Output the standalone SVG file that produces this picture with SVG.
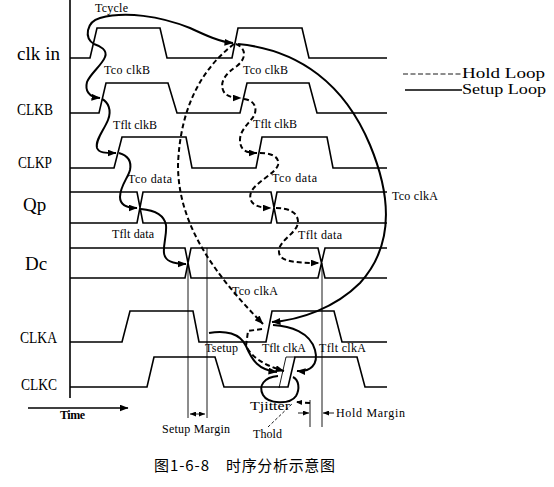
<svg xmlns="http://www.w3.org/2000/svg" width="554" height="487" viewBox="0 0 554 487">
<style>
.sig{fill:none;stroke:#000;stroke-width:1.6}
.thin{fill:none;stroke:#000;stroke-width:0.9}
.loop{fill:none;stroke:#000;stroke-width:2}
.hold{fill:none;stroke:#000;stroke-width:2;stroke-dasharray:5,3}
.lbl{font-family:"Liberation Serif",serif;font-size:12px;fill:#000}
.big{font-family:"Liberation Serif",serif;font-size:19px;fill:#000}
.caps{font-family:"Liberation Serif",serif;font-size:16px;fill:#000}
.leg{font-family:"Liberation Serif",serif;font-size:14px;fill:#000}
.cap{font-family:"Noto Sans CJK SC",sans-serif;font-size:15px;fill:#000}
</style>
<defs>
<marker id="ah" viewBox="0 0 9 7" refX="8.5" refY="3.5" markerWidth="9" markerHeight="7" markerUnits="userSpaceOnUse" orient="auto"><path d="M0,0 L9,3.5 L0,7 z" fill="#000"/></marker>
<marker id="sm" viewBox="0 0 6 5" refX="6" refY="2.5" markerWidth="6" markerHeight="5" markerUnits="userSpaceOnUse" orient="auto-start-reverse"><path d="M0,0 L6,2.5 L0,5 z" fill="#000"/></marker>
</defs>
<rect width="554" height="487" fill="#fff"/>

<g id="axis"><path class="sig" d="M70,0 V398"/></g>

<g id="clkin"><text class="big" x="17" y="60" textLength="43">clk in</text><path class="sig" d="M70,58 H90 L97,28 H160 L167,58 H232 L238,28 H302 L309,58 H387"/></g>
<g id="clkb"><text class="caps" x="17" y="115" textLength="36" lengthAdjust="spacingAndGlyphs">CLKB</text><path class="sig" d="M70,113 H99 L106,83 H168 L177,113 H240 L247,83 H309 L317,113 H387"/></g>
<g id="clkp"><text class="caps" x="18" y="168" textLength="34" lengthAdjust="spacingAndGlyphs">CLKP</text><path class="sig" d="M70,168 H114 L122,137 H186 L192,168 H256 L262,137 H327 L333,168 H387"/></g>
<g id="qp"><text class="big" x="23" y="211" font-size="20">Qp</text><path class="sig" d="M70,192 H137 L143,223 H271 L277,192 H387 M70,223 H137 L143,192 H271 L277,223 H387"/></g>
<g id="dc"><text class="big" x="25" y="270">Dc</text><path class="sig" d="M70,248 H185 L191,278 H318 L325,248 H387 M70,278 H185 L191,248 H318 L325,278 H387"/></g>
<g id="clka"><text class="caps" x="20" y="343" textLength="37" lengthAdjust="spacingAndGlyphs">CLKA</text><path class="sig" d="M70,342 H122 L130,311 H193 L199,342 H266 L272,311 H334 L342,342 H387"/></g>
<g id="clkc"><text class="caps" x="21" y="390" textLength="36" lengthAdjust="spacingAndGlyphs">CLKC</text><path class="sig" d="M70,387 H147 L154,357 H215 L224,387 H288 L295,357 H357 L365,387 H387"/><path class="thin" d="M279,388 L286,357 H295"/></g>

<g id="markers">
<path class="thin" d="M188,263 V418 M207,248 V418 M322,263 V427 M310,400 V427"/>
<path class="thin" d="M190,414 H205" marker-start="url(#sm)" marker-end="url(#sm)"/>
<path class="thin" d="M298,413 H309" marker-end="url(#sm)"/>
<path class="thin" d="M334,413 H323" marker-end="url(#sm)"/>
<path class="thin" d="M268,427 L293,403" stroke-dasharray="3,2"/>
</g>

<g id="connectors">
<path class="loop" d="M94,44 C84,38 86,22 100,18 C125,11 160,16 190,28 C205,35 220,42 233,43" marker-end="url(#ah)"/>
<path class="loop" d="M94,44 C100,46 108,50 105,57 C102,65 90,74 87,82 C85,90 88,97 100,98" marker-end="url(#ah)"/>
<path class="loop" d="M102,99 C108,102 112,110 108,120 C104,130 95,140 97,148 C99,153 105,153 116,153" marker-end="url(#ah)"/>
<path class="loop" d="M119,153 C126,155 132,160 130,170 C128,178 120,186 120,197 C120,205 126,208 137,208" marker-end="url(#ah)"/>
<path class="loop" d="M141,209 C152,210 164,214 166,225 C167,235 163,245 164,253 C165,261 172,264 186,264" marker-end="url(#ah)"/>
<path class="loop" d="M238,44 C300,50 345,85 370,145 C395,205 390,250 360,283 C335,308 300,320 272,322" marker-end="url(#ah)"/>
<path class="loop" d="M273,325 C290,326 310,332 315,350 C319,365 310,372 297,371" marker-end="url(#ah)"/>
<path class="loop" d="M209,333 C225,330 240,333 246,346 C252,360 258,370 277,372" marker-end="url(#ah)"/>
<path class="loop" d="M278,376 C264,377 258,386 263,395 C268,404 290,405 296,396 C300,389 299,380 293,377"/>

<path class="hold" d="M236,44 C246,48 247,58 237,66 C225,74 220,82 223,90 C225,96 232,98 241,98" marker-end="url(#ah)"/>
<path class="hold" d="M244,99 C252,100 257,105 255,113 C253,121 240,128 240,140 C240,150 246,153 257,153" marker-end="url(#ah)"/>
<path class="hold" d="M260,153 C270,153 280,156 278,165 C276,173 256,182 251,192 C248,202 254,208 271,208" marker-end="url(#ah)"/>
<path class="hold" d="M276,208 C288,208 298,212 298,222 C298,232 280,240 279,250 C278,260 288,263 319,263" marker-end="url(#ah)"/>
<path class="hold" d="M234,44 C200,70 180,110 178,165 C178,225 215,275 263,324" stroke-dasharray="4,3" marker-end="url(#ah)"/>
<path class="hold" d="M262,329 L248,331 L246,346 C252,358 266,366 284,371" marker-end="url(#ah)"/>
<path class="hold" d="M310,403 L296,402" stroke-width="1.5" stroke-dasharray="2,2" marker-end="url(#sm)"/>
<path class="sig" d="M28,408 H128" marker-end="url(#ah)"/>
</g>

<g id="labels">
<text class="lbl" x="95" y="12" textLength="33">Tcycle</text>
<text class="lbl" x="104" y="74" textLength="46">Tco clkB</text>
<text class="lbl" x="243" y="74" textLength="45">Tco clkB</text>
<text class="lbl" x="113" y="129" textLength="44">Tflt clkB</text>
<text class="lbl" x="253" y="128" textLength="44">Tflt clkB</text>
<text class="lbl" x="128" y="183" textLength="44">Tco data</text>
<text class="lbl" x="272" y="182" textLength="45">Tco data</text>
<text class="lbl" x="112" y="238" textLength="42">Tflt data</text>
<text class="lbl" x="298" y="239" textLength="44">Tflt data</text>
<text class="lbl" x="392" y="200" textLength="46">Tco clkA</text>
<text class="lbl" x="232" y="295" textLength="46">Tco clkA</text>
<text class="lbl" x="205" y="352" textLength="33">Tsetup</text>
<text class="lbl" x="262" y="352" textLength="44">Tflt clkA</text>
<text class="lbl" x="319" y="352" textLength="47">Tflt clkA</text>
<text class="lbl" x="250" y="410" textLength="40" lengthAdjust="spacingAndGlyphs">Tjitter</text>
<text class="lbl" x="336" y="417" textLength="69">Hold Margin</text>
<text class="lbl" x="162" y="433" textLength="68">Setup Margin</text>
<text class="lbl" x="253" y="438" textLength="29">Thold</text>
<text class="lbl" x="60" y="419" font-weight="bold" font-size="11" textLength="25">Time</text>
</g>

<g id="legend">
<path class="thin" d="M403,74 H462" stroke-width="1.3" stroke-dasharray="5,2.5"/>
<text class="leg" x="462" y="78" textLength="83" lengthAdjust="spacingAndGlyphs">Hold Loop</text>
<path class="sig" d="M405,90 H462"/>
<text class="leg" x="462" y="94" textLength="84" lengthAdjust="spacingAndGlyphs">Setup Loop</text>
</g>

<g id="caption"><text class="cap" x="154" y="471" textLength="55">图1-6-8</text><text class="cap" x="226" y="471" textLength="109">时序分析示意图</text></g>
</svg>
